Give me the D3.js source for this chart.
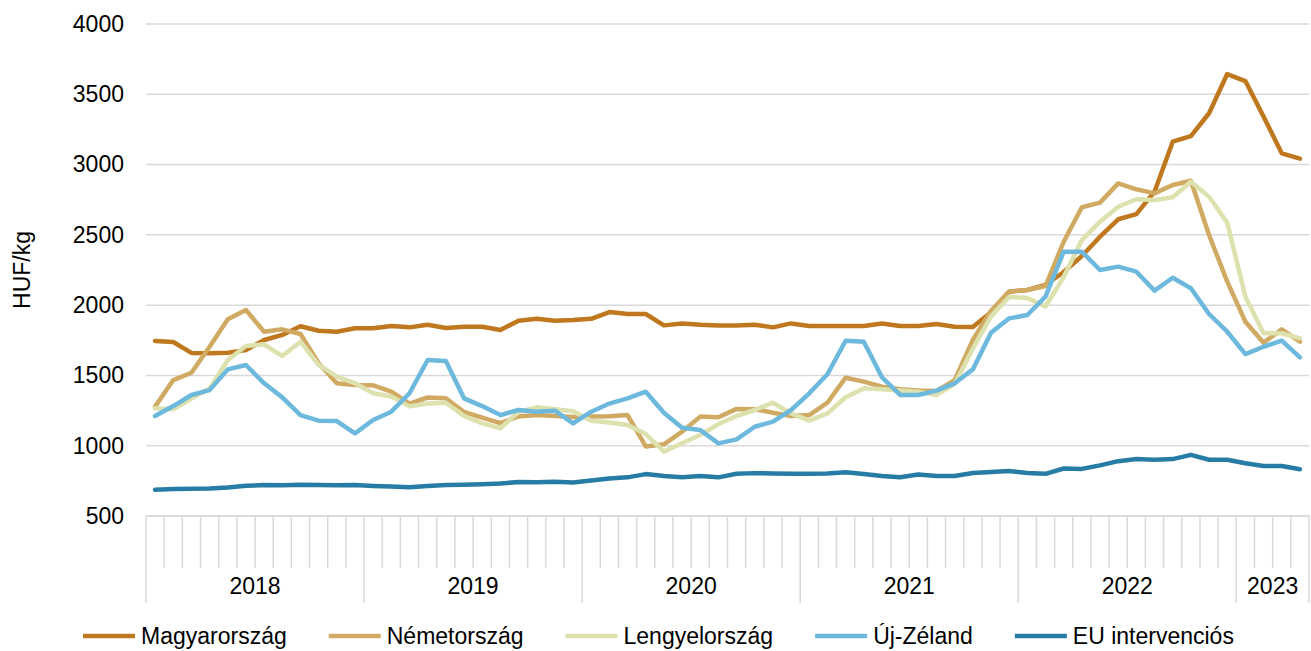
<html>
<head>
<meta charset="utf-8">
<script type="text/javascript" src="https://cdn.jsdelivr.net/npm/d3@7/dist/d3.min.js"></script>
<style>
body { margin: 0; background: #fff; }
text { font-family: "Liberation Sans", Arial, sans-serif; fill: #000; }
</style>
</head>
<body>
<div id="chart"></div>
<script type="text/javascript">
// monthly prices, Jan 2018 - Apr 2023
var years = ["2018", "2019", "2020", "2021", "2022", "2023"],
	monthsInYear = [12, 12, 12, 12, 12, 4],
	yTicks = [500, 1000, 1500, 2000, 2500, 3000, 3500, 4000];

var magyar = [1745, 1738, 1660, 1657, 1662, 1680, 1752, 1788, 1850, 1818, 1811, 1835,
	1835, 1852, 1842, 1861, 1837, 1846, 1846, 1823, 1889, 1903, 1889, 1894,
	1903, 1951, 1937, 1937, 1856, 1870, 1861, 1856, 1856, 1861, 1842, 1870,
	1851, 1851, 1851, 1851, 1870, 1851, 1851, 1866, 1846, 1844, 1950, 2096,
	2108, 2143, 2236, 2350, 2487, 2611, 2648, 2807, 3163, 3203, 3365, 3644,
	3594, 3341, 3080, 3042];

var nemet = [1278, 1467, 1519, 1704, 1899, 1965, 1811, 1828, 1795, 1587, 1445, 1432,
	1430, 1384, 1300, 1343, 1338, 1240, 1200, 1160, 1208, 1218, 1212, 1205,
	1208, 1210, 1218, 995, 1010, 1100, 1207, 1202, 1262, 1260, 1235, 1211,
	1218, 1306, 1484, 1456, 1420, 1401, 1392, 1390, 1467, 1752, 1960, 2096,
	2108, 2136, 2451, 2696, 2729, 2866, 2824, 2795, 2855, 2885, 2499, 2167,
	1882, 1733, 1828, 1740];

var lengyel = [1266, 1259, 1336, 1407, 1610, 1709, 1721, 1638, 1740, 1575, 1492, 1445,
	1373, 1350, 1280, 1300, 1306, 1212, 1159, 1124, 1240, 1273, 1259, 1245,
	1178, 1165, 1147, 1083, 958, 1017, 1076, 1154, 1211, 1254, 1306, 1230,
	1178, 1230, 1345, 1408, 1401, 1392, 1384, 1361, 1440, 1690, 1920, 2060,
	2050, 1990, 2200, 2463, 2594, 2700, 2753, 2748, 2767, 2878, 2771, 2587,
	2060, 1800, 1800, 1764];

var ujzeland = [1211, 1282, 1361, 1396, 1543, 1574, 1444, 1344, 1218, 1178, 1175, 1088,
	1183, 1242, 1373, 1610, 1603, 1337, 1282, 1218, 1254, 1242, 1249, 1159,
	1242, 1300, 1337, 1384, 1235, 1128, 1112, 1017, 1045, 1135, 1171, 1254,
	1373, 1508, 1747, 1740, 1487, 1361, 1361, 1392, 1444, 1543, 1804, 1906,
	1930, 2060, 2380, 2380, 2250, 2274, 2238, 2103, 2195, 2120, 1937, 1811,
	1652, 1704, 1747, 1629];

var euInterv = [686, 692, 693, 695, 703, 715, 720, 718, 722, 720, 718, 720,
	714, 710, 704, 713, 720, 722, 726, 731, 742, 740, 743, 738,
	752, 766, 775, 798, 784, 775, 784, 775, 800, 805, 802, 800,
	800, 802, 812, 799, 784, 775, 795, 784, 784, 806, 813, 820,
	806, 800, 838, 835, 860, 890, 905, 900, 905, 935, 900, 900,
	875, 856, 856, 833];

var seriesNames = ["Magyarország", "Németország", "Lengyelország", "Új-Zéland", "EU intervenciós"],
	seriesColors = ["#c0781f", "#d0aa62", "#dde1ad", "#6db9de", "#277ca6"],
	seriesValues = [magyar, nemet, lengyel, ujzeland, euInterv];

var w = 1311,
	h = 651,
	plotLeft = 146,
	plotRight = 1309,
	plotTop = 24,
	plotBottom = 516,
	fontSize = 23;

// month categories built from the year list
var months = [];
years.forEach(function(yr, yi) {
	for (var m = 0; m < monthsInYear[yi]; m++) months.push(yr + "-" + (m + 1));
});

var x = d3.scaleBand().domain(months).range([plotLeft, plotRight]).padding(0);
var y = d3.scaleLinear().domain([500, 4000]).range([plotBottom, plotTop]);

var svg = d3.select("#chart").append("svg")
	.attr("width", w)
	.attr("height", h);

// gridlines
svg.append("g").selectAll("line")
	.data(yTicks)
	.enter().append("line")
	.attr("x1", plotLeft).attr("x2", plotRight)
	.attr("y1", function(d) { return y(d); })
	.attr("y2", function(d) { return y(d); })
	.style("stroke", "#d9d9d9")
	.style("stroke-width", 1.5);

// y axis labels
var yAxis = d3.axisLeft(y).tickValues(yTicks).tickSize(0).tickPadding(22).tickFormat(d3.format("d"));
svg.append("g")
	.attr("transform", "translate(" + plotLeft + ",0)")
	.call(yAxis)
	.call(function(g) { g.select(".domain").remove(); })
	.selectAll("text")
	.style("font-size", fontSize + "px")
	.style("font-family", "'Liberation Sans', Arial, sans-serif")
	.attr("fill", "#000");

svg.append("text")
	.attr("transform", "translate(30," + ((plotTop + plotBottom) / 2) + ") rotate(-90)")
	.attr("text-anchor", "middle")
	.style("font-size", fontSize + "px")
	.text("HUF/kg");

// x axis: month ticks and year separators
var xg = svg.append("g");
xg.selectAll("line.month")
	.data(months)
	.enter().append("line")
	.attr("class", "month")
	.attr("x1", function(d) { return x(d); })
	.attr("x2", function(d) { return x(d); })
	.attr("y1", plotBottom)
	.attr("y2", function(d) { return d.slice(5) === "1" ? 603 : 568; })
	.style("stroke", "#d9d9d9")
	.style("stroke-width", 1.5);

xg.append("line")
	.attr("x1", plotRight).attr("x2", plotRight)
	.attr("y1", plotBottom).attr("y2", 603)
	.style("stroke", "#d9d9d9")
	.style("stroke-width", 1.5);

xg.append("line")
	.attr("x1", plotLeft).attr("x2", plotRight)
	.attr("y1", plotBottom).attr("y2", plotBottom)
	.style("stroke", "#d9d9d9")
	.style("stroke-width", 1.5);

xg.selectAll("text.year")
	.data(years)
	.enter().append("text")
	.attr("class", "year")
	.attr("x", function(d, i) {
		var first = x(d + "-1"),
			last = x(d + "-" + monthsInYear[i]) + x.bandwidth();
		return (first + last) / 2;
	})
	.attr("y", 594)
	.attr("text-anchor", "middle")
	.style("font-size", fontSize + "px")
	.text(function(d) { return d; });

// lines
var line = d3.line()
	.x(function(d, i) { return x(months[i]) + x.bandwidth() / 2; })
	.y(function(d) { return y(d); });

svg.append("g").selectAll("path")
	.data(seriesValues)
	.enter().append("path")
	.attr("d", line)
	.style("fill", "none")
	.style("stroke", function(d, i) { return seriesColors[i]; })
	.style("stroke-width", 4.5)
	.style("stroke-linejoin", "round")
	.style("stroke-linecap", "round");

// legend
var lx = 83, ly = 636;
var legend = svg.append("g");
seriesNames.forEach(function(name, i) {
	legend.append("line")
		.attr("x1", lx).attr("x2", lx + 52)
		.attr("y1", ly).attr("y2", ly)
		.style("stroke", seriesColors[i])
		.style("stroke-width", 4.5);
	var t = legend.append("text")
		.attr("x", lx + 58)
		.attr("y", ly + 8)
		.style("font-size", fontSize + "px")
		.text(name);
	lx += 58 + t.node().getComputedTextLength() + 42;
});
</script>
</body>
</html>
